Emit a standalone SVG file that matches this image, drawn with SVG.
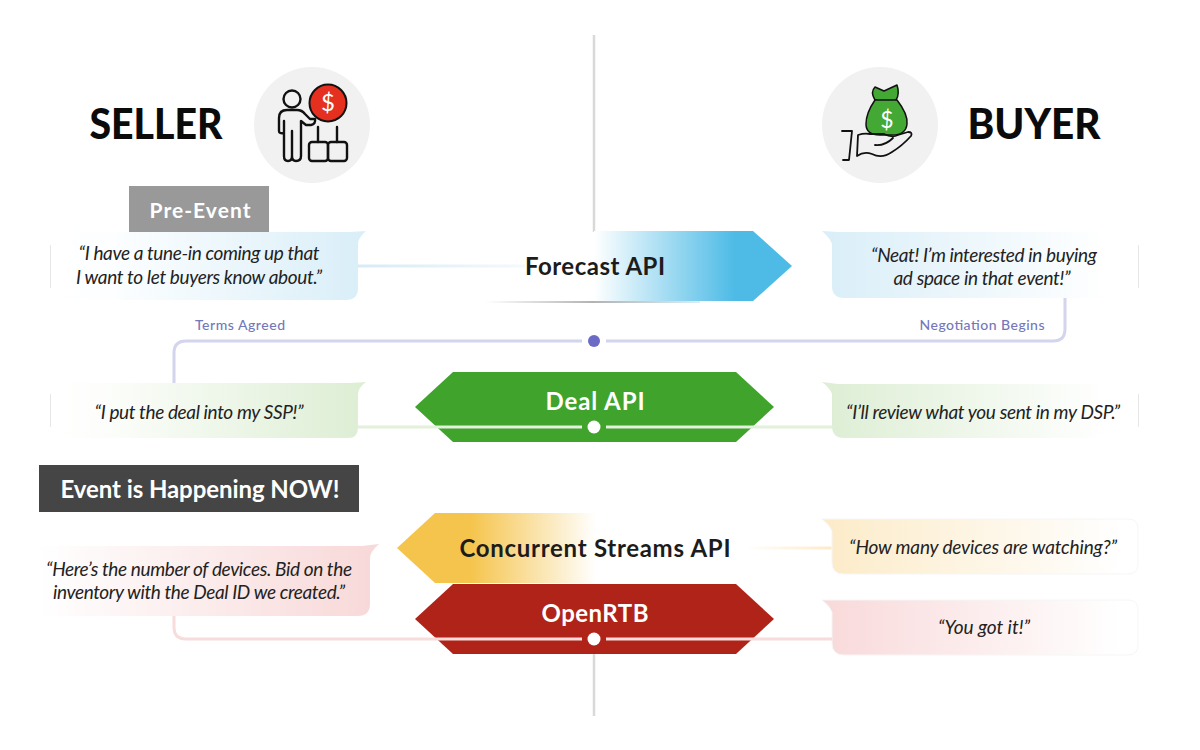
<svg xmlns="http://www.w3.org/2000/svg" width="1200" height="750" viewBox="0 0 1200 750">
<style>
text{font-family:"Lato","Liberation Sans",sans-serif;text-anchor:middle}
.q{font-size:19px;font-style:italic;fill:#222;font-weight:400}
.h{font-size:42px;font-weight:900;fill:#0b0b0b}
.a{font-size:24px;font-weight:700}
.w{fill:#fff}.d{fill:#1c1c1c}
.t{font-size:14px;fill:#7378ba;font-weight:500}
.i{fill:none;stroke:#111;stroke-width:2.400;stroke-linecap:round;stroke-linejoin:round}
.sl{stroke:#e6e6e6;stroke-width:1;fill:none}
.e{stroke:#f6f6f6;stroke-width:1}
.c{fill:none;stroke-width:3}
</style>
<defs>
<linearGradient id="bl"><stop offset="0" stop-color="#fff"/><stop offset=".2" stop-color="#fcfeff"/><stop offset="1" stop-color="#d9eef8"/></linearGradient>
<linearGradient id="br"><stop offset="0" stop-color="#d9eef8"/><stop offset=".9" stop-color="#fff"/></linearGradient>
<linearGradient id="gl"><stop offset="0" stop-color="#fff"/><stop offset=".15" stop-color="#fdfefc"/><stop offset="1" stop-color="#ddeed4"/></linearGradient>
<linearGradient id="gr"><stop offset="0" stop-color="#ddeed4"/><stop offset=".9" stop-color="#fff"/></linearGradient>
<linearGradient id="yr"><stop offset="0" stop-color="#fcebc8"/><stop offset=".95" stop-color="#fff"/></linearGradient>
<linearGradient id="pl"><stop offset="0" stop-color="#fff"/><stop offset="1" stop-color="#f8d8d8"/></linearGradient>
<linearGradient id="pr"><stop offset="0" stop-color="#f9d9da"/><stop offset=".95" stop-color="#fff"/></linearGradient>
<linearGradient id="fc" gradientUnits="userSpaceOnUse" x1="594" y1="0" x2="735" y2="0"><stop offset="0" stop-color="#fff"/><stop offset="1" stop-color="#4dbbe6"/></linearGradient>
<linearGradient id="cs" gradientUnits="userSpaceOnUse" x1="470" y1="0" x2="596" y2="0"><stop offset="0" stop-color="#f5c44c"/><stop offset="1" stop-color="#fff"/></linearGradient>
<linearGradient id="lb" gradientUnits="userSpaceOnUse" x1="358" y1="0" x2="525" y2="0"><stop offset="0" stop-color="#d6ebf6"/><stop offset="1" stop-color="#f4f9fc"/></linearGradient>
<linearGradient id="ly" gradientUnits="userSpaceOnUse" x1="745" y1="0" x2="832" y2="0"><stop offset="0" stop-color="#fff"/><stop offset="1" stop-color="#fcebc8"/></linearGradient>
<linearGradient id="sh" gradientUnits="userSpaceOnUse" x1="485" y1="0" x2="700" y2="0"><stop offset="0" stop-color="#fff"/><stop offset=".5" stop-color="#999"/><stop offset="1" stop-color="#cfe8f4"/></linearGradient>
<linearGradient id="sg"><stop offset="0" stop-color="#fff"/><stop offset=".5" stop-color="#bbb"/><stop offset="1" stop-color="#fff"/></linearGradient>
</defs>

<g id="connectors">
<path d="M594 35V232M594 654V716" stroke="#d9d9d9" stroke-width="2.500" fill="none"/>
<path d="M358 266H525" stroke="url(#lb)" stroke-width="3" fill="none"/>
<path d="M745 548H832" stroke="url(#ly)" stroke-width="3" fill="none"/>
<path class="c" stroke="#d3d4ee" d="M174 384V353Q174 341 186 341H582M606 341H1053Q1065 341 1065 329V298"/>
<circle cx="594" cy="341" r="6" fill="#6b6bc6"/>
</g>

<g id="seller-header">
<text class="h" x="156" y="139" textLength="133" lengthAdjust="spacingAndGlyphs">SELLER</text>
<circle cx="312" cy="125" r="58" fill="#f1f1f1"/>
<circle class="i" cx="292" cy="99" r="8.500"/>
<path class="i" d="M279 131V118Q279 110 287 110H297Q302 110 305 114L310 119H315Q316 124 311 125H306L301 121V156Q301 161 296 161Q292 161 292 156V131M292 156Q292 161 288 161Q284 161 284 156V121V133Q279 134 279 131"/>
<circle cx="328" cy="103" r="18.500" fill="#e5301f" stroke="#111" stroke-width="2"/>
<text x="328" y="111" font-size="24" class="w" style="font-weight:400">$</text>
<path class="i" d="M318 127V142M337 127V142"/>
<rect class="i" x="309" y="142" width="19" height="19" rx="3"/>
<rect class="i" x="328" y="142" width="19" height="19" rx="3"/>
</g>

<g id="buyer-header">
<circle cx="880" cy="125" r="58" fill="#f1f1f1"/>
<path d="M875 100Q870 92 875 87L884 91L897 85Q900 94 896 100Q892 104 875 100Z" fill="#43a834" stroke="#111" stroke-width="1.500" stroke-linejoin="round"/>
<path d="M875 100H897Q908 114 907 124Q906 135 892 135H880Q866 135 866 124Q866 113 875 100Z" fill="#43a834" stroke="#111" stroke-width="1.500" stroke-linejoin="round"/>
<text x="887" y="128" font-size="23" class="w" style="font-weight:400">$</text>
<path class="i" style="stroke-width:1.800" d="M842 131H852L849 160H843M858 135Q864 133 870 134H884Q892 138 898 135L908 132Q913 132 911 136Q902 146 892 152Q882 159 872 154Q864 151 857 156ZM875 145Q885 146 893 138"/>
<text class="h" x="1034" y="139" textLength="133" lengthAdjust="spacingAndGlyphs">BUYER</text>
</g>

<g id="pre-event">
<rect x="129" y="186" width="140" height="47" fill="#999"/>
<text class="w" x="200" y="218" style="font-size:21px;font-weight:700" textLength="101">Pre-Event</text>
</g>

<g id="bubble-seller-forecast">
<path d="M50 232H350L366 231Q358 238 358 244V288Q358 300 346 300H50Z" fill="url(#bl)"/>
<path class="sl" d="M50.500 245V288"/>
<text class="q" x="199" y="260" textLength="241">“I have a tune-in coming up that</text>
<text class="q" x="199" y="284" textLength="246">I want to let buyers know about.”</text>
</g>

<g id="forecast-api">
<path d="M485 302H700" stroke="url(#sh)" stroke-width="1.500"/>
<path d="M594 231H753L792 266L753 301H594Z" fill="url(#fc)"/>
<text class="a d" x="595" y="275" textLength="140">Forecast API</text>
</g>

<g id="bubble-buyer-forecast">
<path d="M822 231L838 232H1128Q1138 232 1138 242V288Q1138 298 1128 298H844Q832 298 832 286V244Q830 238 822 231Z" fill="url(#br)"/>
<path class="sl" d="M1138.500 245V288"/>
<text class="q" x="984" y="262" textLength="226">“Neat! I’m interested in buying</text>
<text class="q" x="982" y="285" textLength="177">ad space in that event!”</text>
</g>

<text class="t" x="240" y="330" textLength="90">Terms Agreed</text>
<text class="t" x="982" y="330" textLength="125">Negotiation Begins</text>

<g id="bubble-seller-deal">
<path d="M50 383H350L366 382Q358 388 358 394V428Q358 438 348 438H50Z" fill="url(#gl)"/>
<path class="sl" d="M50.500 394V427"/>
<text class="q" x="199" y="419" textLength="209">“I put the deal into my SSP!”</text>
</g>

<g id="bubble-buyer-deal">
<path d="M822 382L838 384H1128Q1138 384 1138 394V428Q1138 438 1128 438H844Q832 438 832 426V394Q830 388 822 382Z" fill="url(#gr)"/>
<path class="sl" d="M1138.500 394V427"/>
<text class="q" x="983" y="419" textLength="274">“I’ll review what you sent in my DSP.”</text>
</g>

<g id="deal-api">
<path d="M490 443.500H700" stroke="url(#sg)" stroke-width="1.500"/>
<path d="M415 407L453 372H736L774 407L736 442H453Z" fill="#3fa32c"/>
<text class="a w" x="595" y="410" textLength="99">Deal API</text>
<path class="c" stroke="#e3f0dc" d="M358 427H582M606 427H832"/>
<circle cx="594" cy="427" r="6.500" fill="#fff"/>
</g>

<g id="event-now">
<rect x="39" y="465" width="320" height="47" fill="#454545"/>
<text class="w" x="200" y="498" style="font-size:24px;font-weight:700" textLength="279">Event is Happening NOW!</text>
</g>

<g id="bubble-seller-streams">
<path d="M37 546H362L379 544Q370 552 370 558V604Q370 616 358 616H37Z" fill="url(#pl)"/>
<text class="q" x="199" y="576" textLength="306">“Here’s the number of devices. Bid on the</text>
<text class="q" x="199" y="599" textLength="292">inventory with the Deal ID we created.”</text>
</g>

<g id="concurrent-streams-api">
<path d="M397 548L435 513H596V583H435Z" fill="url(#cs)"/>
<text class="a d" x="595" y="557" textLength="271">Concurrent Streams API</text>
</g>

<g id="bubble-buyer-streams">
<path class="e" d="M822 519L838 519H1128Q1138 519 1138 529V564Q1138 574 1128 574H844Q832 574 832 562V531Q830 525 822 519Z" fill="url(#yr)"/>
<text class="q" x="983" y="554" textLength="268">“How many devices are watching?”</text>
</g>

<g id="bubble-buyer-rtb">
<path class="e" d="M822 600L838 600H1128Q1138 600 1138 610V645Q1138 655 1128 655H844Q832 655 832 643V612Q830 606 822 600Z" fill="url(#pr)"/>
<text class="q" x="984" y="634" textLength="92">“You got it!”</text>
</g>

<g id="openrtb">
<path d="M490 655.500H700" stroke="url(#sg)" stroke-width="1.500"/>
<path d="M415 619L453 584H736L774 619L736 654H453Z" fill="#b02318"/>
<text class="a w" x="595" y="622" textLength="107">OpenRTB</text>
<path class="c" stroke="#f8dcdc" d="M174 616V627Q174 639 186 639H582M606 639H832"/>
<circle cx="594" cy="639" r="6.500" fill="#fff"/>
</g>
</svg>
